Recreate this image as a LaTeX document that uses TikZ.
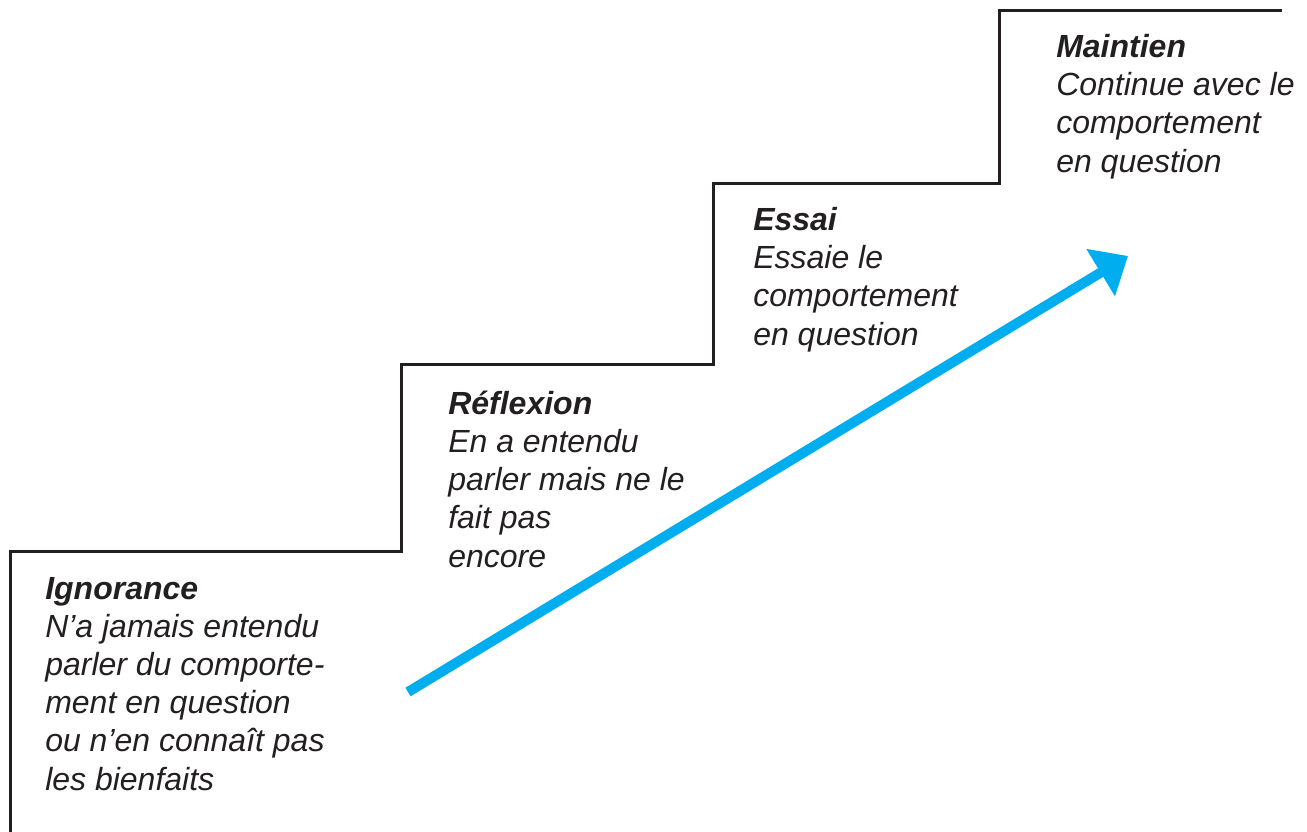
\documentclass[tikz,border=0pt]{standalone}
\usepackage{fontspec}
\setmainfont{Liberation Sans}
\usepackage{xcolor}
\usetikzlibrary{arrows.meta}
\definecolor{stepcyan}{RGB}{0,174,239}
\definecolor{stepgray}{RGB}{35,31,32}

\begin{document}
\begin{tikzpicture}[x=0.75pt,y=0.75pt,yscale=-1,xscale=1,
  stair/.style={color=stepgray,line width=2.25pt},
  stage/.style={anchor=base west,align=left,inner sep=0pt,text=stepgray,font=\fontsize{24}{28.6}\selectfont\itshape},
  progress/.style={color=stepcyan,line width=7.5pt,-{Triangle[length=24pt,width=40pt]}}]
\useasboundingbox (0,0) rectangle (1307,832);

%Shape: Stairs
\draw [stair] (10,832) -- (10,551) -- (401,551) -- (401,364) -- (713,364) -- (713,183) -- (999,183) -- (999,10) -- (1282,10) ;

% Text Node (anchored at the baseline of its last line)
\node [stage] (ignorance) at (45,790) {\textbf{Ignorance}\\N'a jamais entendu\\parler du comporte-\\ment en question\\ou n'en connaît pas\\les bienfaits};
% Text Node
\node [stage] (reflexion) at (448,567) {\textbf{Réflexion}\\En a entendu\\parler mais ne le\\fait pas\\encore};
% Text Node
\node [stage] (essai) at (753,345) {\textbf{Essai}\\Essaie le\\comportement\\en question};
% Text Node
\node [stage] (maintien) at (1056,172) {\textbf{Maintien}\\Continue avec le\\comportement\\en question};

%Straight Lines: progress arrow
\coordinate (arrowstart) at (408,692);
\coordinate (arrowend) at (1128,256);
\draw [progress] (arrowstart) -- (arrowend) ;
\end{tikzpicture}
\end{document}
